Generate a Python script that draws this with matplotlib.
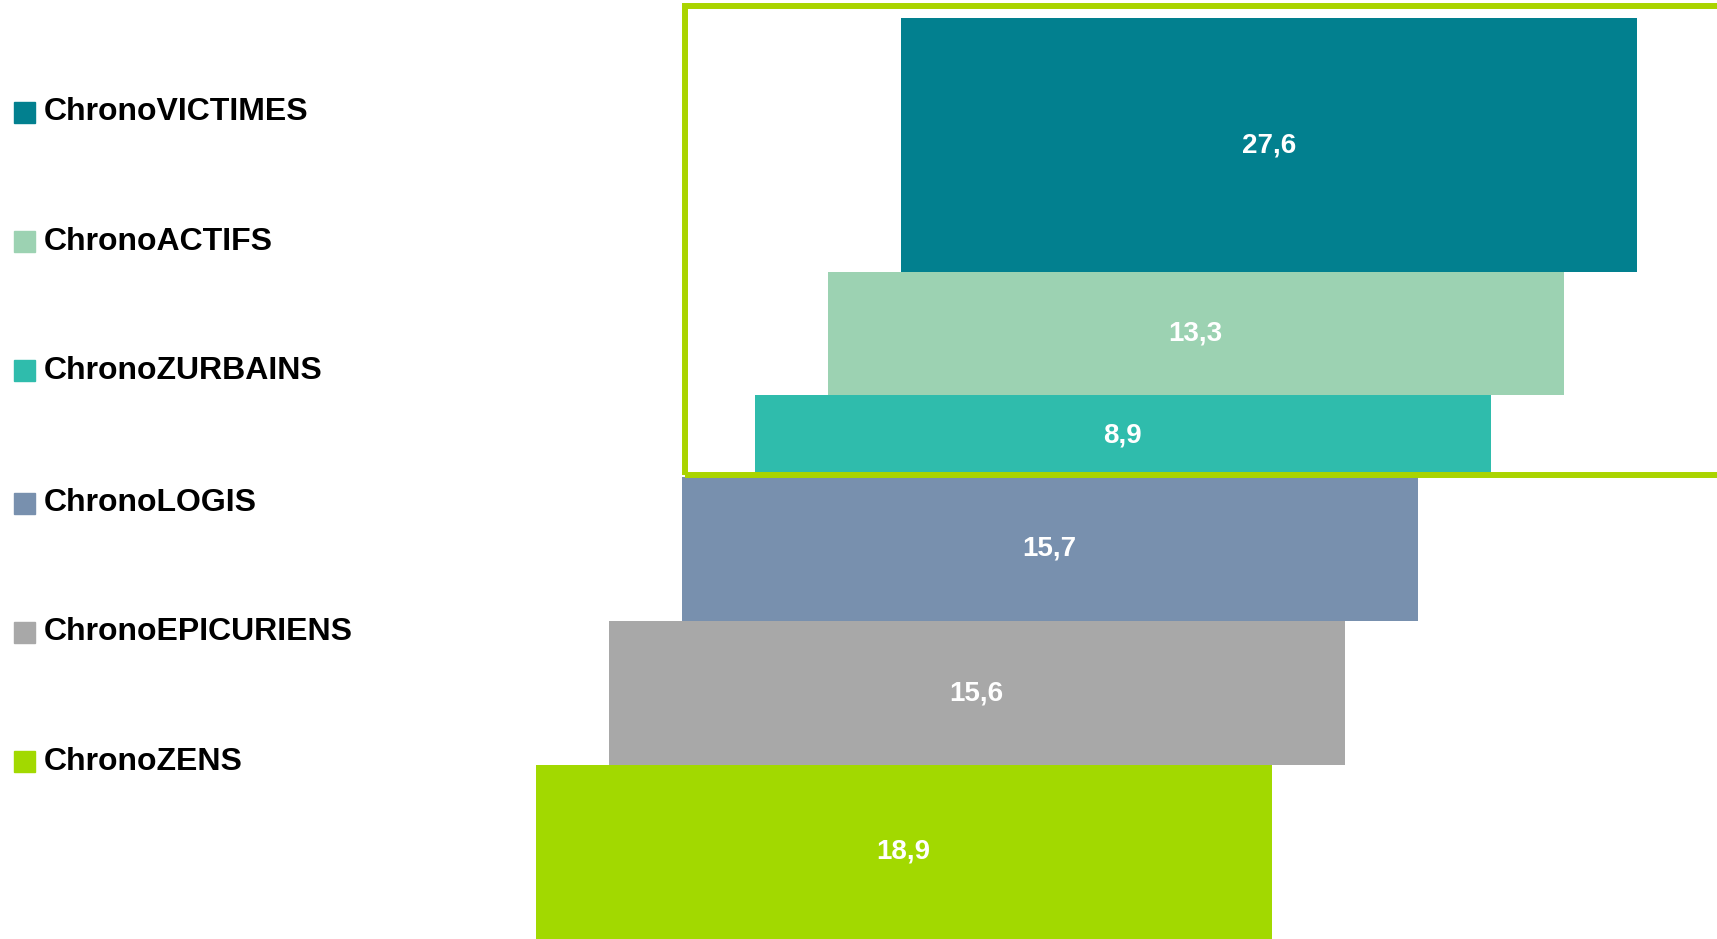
import matplotlib

matplotlib.use("Agg")
import matplotlib.pyplot as plt
from matplotlib.patches import Rectangle

plt.rcParams["font.family"] = ["Liberation Sans", "DejaVu Sans"]

# bottom -> top
categories = ["ChronoZENS", "ChronoEPICURIENS", "ChronoLOGIS",
              "ChronoZURBAINS", "ChronoACTIFS", "ChronoVICTIMES"]
values = [18.9, 15.6, 15.7, 8.9, 13.3, 27.6]
colors = ["#A2D900", "#A8A8A8", "#7890AE", "#2FBCAC", "#9CD2B2", "#02808F"]

W, H, DPI = 17.17, 9.39, 100
fig = plt.figure(figsize=(W, H), dpi=DPI)
ax = fig.add_axes([0, 0, 1, 1])

# x: one unit per step (73 px), y: percent (9.21 px per point)
px_x, px_y = 73.0, 9.21
x0 = 536 / px_x
ax.set_xlim(-x0, (W * DPI) / px_x - x0)
ax.set_ylim(0, (H * DPI) / px_y)
ax.axis("off")

bar_w = 735.5 / px_x
bottom = 0.0
for i, (cat, v, c) in enumerate(zip(categories, values, colors)):
    ax.bar(i, v, bottom=bottom, width=bar_w, align="edge", color=c,
           linewidth=0, zorder=2)
    ax.text(i + bar_w / 2, bottom + v / 2, f"{v:.1f}".replace(".", ","),
            ha="center", va="center", color="white", fontsize=20,
            fontweight="bold", zorder=4)
    bottom += v

# highlight frame around the top three segments
low = sum(values[:3])
ax.add_patch(Rectangle((2.04, low + 0.2), 20, 101.3 - low - 0.2, fill=False,
                       edgecolor="#AAD400", linewidth=4.3, zorder=3))

# legend on the left, top entry first
fh = H * DPI
legend_y = [112.5, 241.5, 370.5, 503.5, 632.5, 761.5]
for cat, c, yp in zip(categories[::-1], colors[::-1], legend_y):
    fig.patches.append(Rectangle((14 / (W * DPI), 1 - (yp + 10.5) / fh),
                                 21 / (W * DPI), 21 / fh, color=c,
                                 transform=fig.transFigure, figure=fig))
    fig.text(44 / (W * DPI), 1 - yp / fh, cat, ha="left", va="center",
             fontsize=23, fontweight="bold", color="black")

fig.savefig("out.png", dpi=DPI)
